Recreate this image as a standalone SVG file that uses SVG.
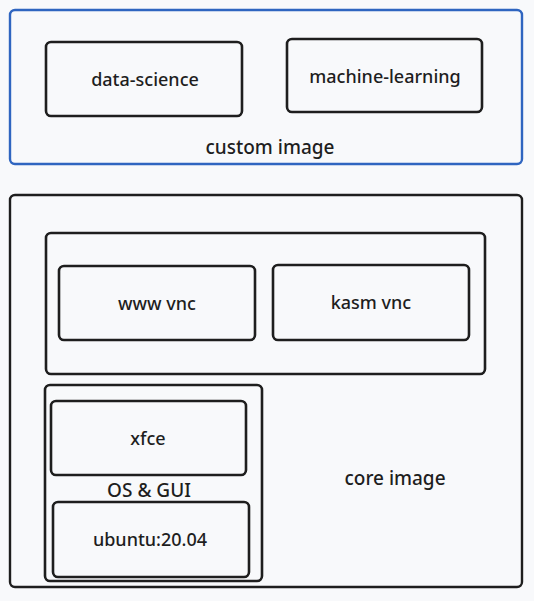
<svg xmlns="http://www.w3.org/2000/svg" width="534" height="601" viewBox="0 0 534 601">
<style>
.bg{fill:#f8f9fb}
.box{fill:none;stroke:#1e1e1e;stroke-width:2.6}
.outer{fill:none;stroke:#1e1e1e;stroke-width:2.4}
.blue{fill:none;stroke:#2f65c0;stroke-width:2.4}
.t{font-family:"Noto Sans","Liberation Sans",Arial,sans-serif;font-size:18px;font-weight:500;fill:#1e1e1e;text-anchor:middle;dominant-baseline:central}
.tl{font-family:"Noto Sans","Liberation Sans",Arial,sans-serif;font-size:19px;font-weight:500;fill:#1e1e1e;text-anchor:middle;dominant-baseline:central}
</style>
<rect class="bg" x="0" y="0" width="534" height="601"/>
<g id="custom-image">
<rect class="blue" x="10" y="10" width="512" height="154" rx="5"/>
<text class="tl" x="270" y="147">custom image</text>
</g>
<g id="data-science">
<rect class="box" x="46" y="42" width="196" height="74" rx="5"/>
<text class="t" x="145" y="79">data-science</text>
</g>
<g id="machine-learning">
<rect class="box" x="287" y="39" width="195" height="73" rx="5"/>
<text class="t" x="385" y="76">machine-learning</text>
</g>
<g id="core-image">
<rect class="outer" x="10" y="195" width="512" height="392" rx="5"/>
<text class="tl" x="395" y="478">core image</text>
</g>
<g id="vnc">
<rect class="box" x="46" y="233" width="439" height="141" rx="5"/>
</g>
<g id="www-vnc">
<rect class="box" x="59" y="266" width="196" height="74" rx="5"/>
<text class="t" x="157" y="303">www vnc</text>
</g>
<g id="kasm-vnc">
<rect class="box" x="273" y="265" width="196" height="75" rx="5"/>
<text class="t" x="371" y="302">kasm vnc</text>
</g>
<g id="os-gui">
<rect class="box" x="45" y="385" width="217" height="196" rx="5"/>
<text class="tl" x="149" y="490">OS &amp; GUI</text>
</g>
<g id="xfce">
<rect class="box" x="51" y="401" width="195" height="74" rx="5"/>
<text class="t" x="148" y="438">xfce</text>
</g>
<g id="ubuntu">
<rect class="box" x="53" y="502" width="196" height="75" rx="5"/>
<text class="t" x="150" y="539">ubuntu:20.04</text>
</g>
<g id="connectors"></g>
</svg>
